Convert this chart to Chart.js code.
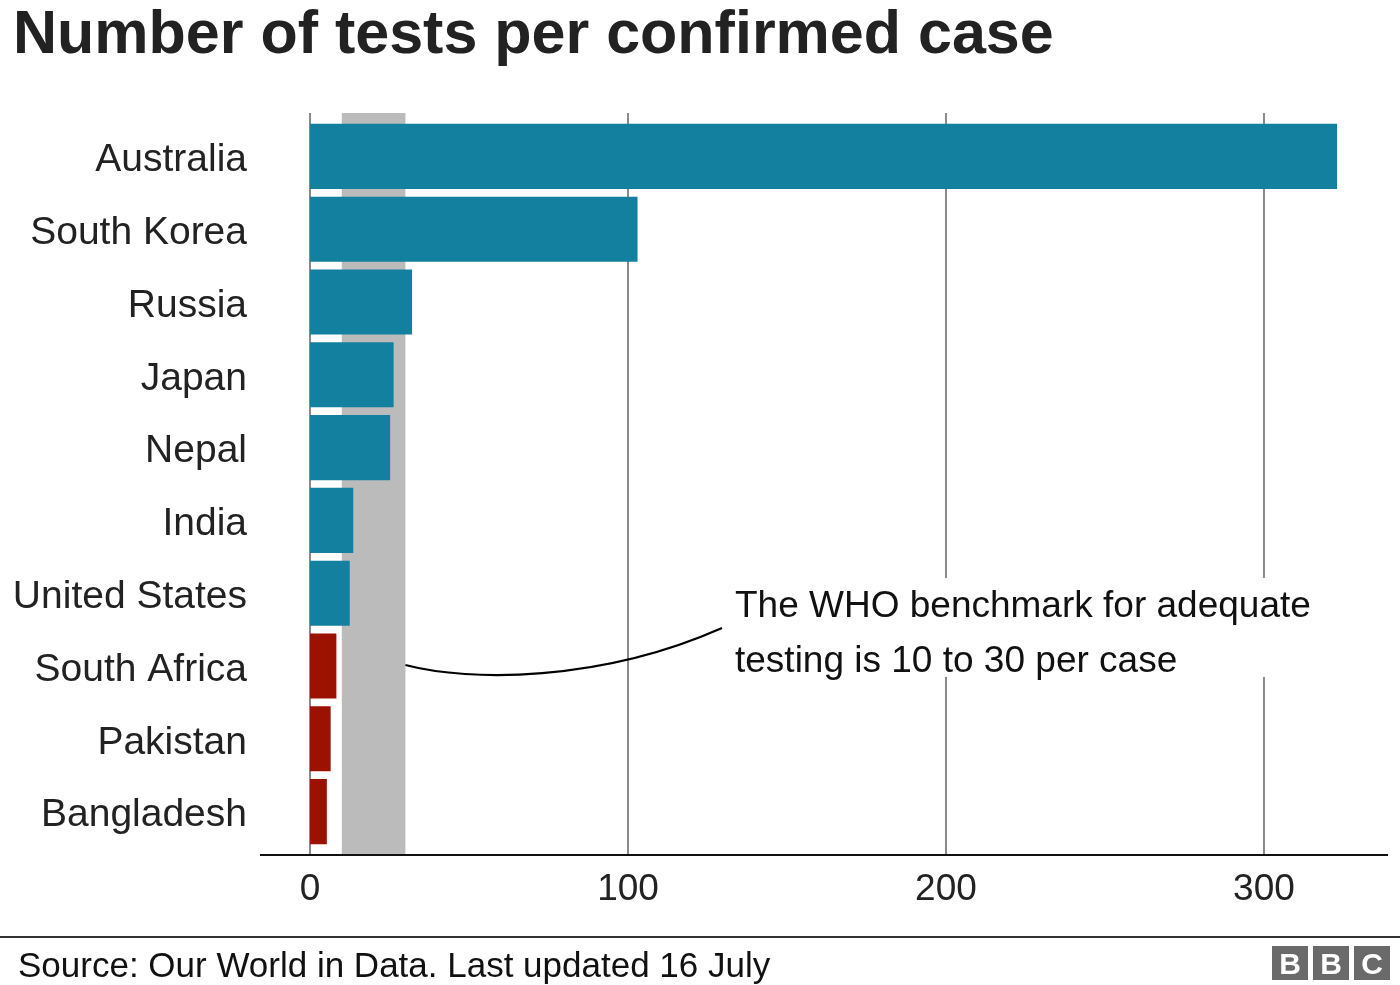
<!DOCTYPE html>
<html>
<head>
<meta charset="utf-8">
<script src="https://cdn.jsdelivr.net/npm/chart.js@4/dist/chart.umd.min.js"></script>
<style>
    html, body { margin: 0; padding: 0; background: #fff; }
    body { width: 1400px; height: 985px; position: relative; overflow: hidden; font-family: "Liberation Sans", Arial, sans-serif; }
    #title { position: absolute; left: 13px; top: -3px; margin: 0; font-size: 61px; font-weight: bold; color: #222; white-space: nowrap; }
    #wrap { position: absolute; left: 0; top: 0; width: 1400px; height: 985px; }
    #rule { position: absolute; left: 0; top: 936px; width: 1400px; height: 2px; background: #333; }
    #source { position: absolute; left: 18px; top: 945px; font-size: 35px; color: #111; white-space: nowrap; }
    #bbc { position: absolute; left: 1272px; top: 946px; display: flex; gap: 5px; }
    #bbc span { width: 36px; height: 34px; background: #6a6a6a; color: #fff; font-weight: bold; font-size: 30px; line-height: 35px; text-align: center; }
</style>
</head>
<body>
<div id="wrap"><canvas id="chart"></canvas></div>
<h1 id="title">Number of tests per confirmed case</h1>
<div id="rule"></div>
<div id="source">Source: Our World in Data. Last updated 16 July</div>
<div id="bbc"><span>B</span><span>B</span><span>C</span></div>
<script>
// Data
const countries = ['Australia', 'South Korea', 'Russia', 'Japan', 'Nepal', 'India',
    'United States', 'South Africa', 'Pakistan', 'Bangladesh'];
const testsPerCase = [323, 103, 32.1, 26.3, 25.2, 13.6, 12.5, 8.3, 6.5, 5.3];
const tickValues = [0, 100, 200, 300];
const benchmark = [10, 30];
const noteLines = ['The WHO benchmark for adequate', 'testing is 10 to 30 per case'];

const TEAL = '#14809f';
const RED = '#9b1200';

/**
 * Draws the grey WHO band, the vertical grid lines and the baseline
 * behind the bars, then the note and its connector on top.
 */
const decorPlugin = {
    id: 'decor',
    beforeDatasetsDraw(chart) {
        const ctx = chart.ctx;
        const x = chart.scales.x;
        const area = chart.chartArea;
        const top = area.top - 7;
        const bottom = area.bottom + 7;

        ctx.save();
        // benchmark band
        let x0 = x.getPixelForValue(benchmark[0]);
        let x1 = x.getPixelForValue(benchmark[1]);
        ctx.fillStyle = '#bbbbbc';
        ctx.fillRect(x0, top, x1 - x0, bottom - top);

        // grid lines
        ctx.strokeStyle = '#8a8a8a';
        ctx.lineWidth = 2;
        tickValues.forEach(v => {
            let px = x.getPixelForValue(v);
            ctx.beginPath();
            ctx.moveTo(px, top);
            ctx.lineTo(px, bottom);
            ctx.stroke();
        });

        // note background, breaks the grid lines
        ctx.fillStyle = '#fff';
        ctx.fillRect(728, 578, 600, 99);

        // baseline
        ctx.strokeStyle = '#111';
        ctx.lineWidth = 2;
        ctx.beginPath();
        ctx.moveTo(260, bottom);
        ctx.lineTo(1388, bottom);
        ctx.stroke();
        ctx.restore();
    },
    afterDatasetsDraw(chart) {
        const ctx = chart.ctx;
        const x = chart.scales.x;
        ctx.save();
        // connector from the band to the note
        let sx = x.getPixelForValue(benchmark[1]);
        ctx.strokeStyle = '#000';
        ctx.lineWidth = 2.2;
        ctx.beginPath();
        ctx.moveTo(sx, 665);
        ctx.bezierCurveTo(470, 682, 600, 682, 722, 628);
        ctx.stroke();

        ctx.fillStyle = '#111';
        ctx.font = '37px "Liberation Sans", Arial, sans-serif';
        ctx.textBaseline = 'alphabetic';
        ctx.fillText(noteLines[0], 735, 617);
        ctx.fillText(noteLines[1], 735, 672);
        ctx.restore();
    },
};

new Chart(document.getElementById('chart'), {
    type: 'bar',
    data: {
        labels: countries,
        datasets: [{
            data: testsPerCase,
            backgroundColor: ctx => (ctx.raw < benchmark[0] ? RED : TEAL),
            borderWidth: 0,
            categoryPercentage: 1,
            barPercentage: 0.894,
        }],
    },
    options: {
        indexAxis: 'y',
        responsive: true,
        maintainAspectRatio: false,
        animation: false,
        layout: { padding: { top: 120, right: 12, left: 0, bottom: 0 } },
        plugins: { legend: { display: false }, tooltip: { enabled: false } },
        scales: {
            x: {
                type: 'linear',
                min: 0,
                max: 339,
                afterBuildTicks: scale => { scale.ticks = tickValues.map(v => ({ value: v })); },
                afterFit: scale => { scale.height = 137; },
                grid: { display: false, drawTicks: false },
                border: { display: false },
                ticks: {
                    padding: 20,
                    color: '#222',
                    font: { family: '"Liberation Sans", Arial, sans-serif', size: 37 },
                },
            },
            y: {
                afterFit: scale => { scale.width = 310; },
                grid: { display: false, drawTicks: false },
                border: { display: false },
                ticks: {
                    padding: 63,
                    labelOffset: 4,
                    color: '#222',
                    font: { family: '"Liberation Sans", Arial, sans-serif', size: 39 },
                },
            },
        },
    },
    plugins: [decorPlugin],
});
</script>
</body>
</html>
